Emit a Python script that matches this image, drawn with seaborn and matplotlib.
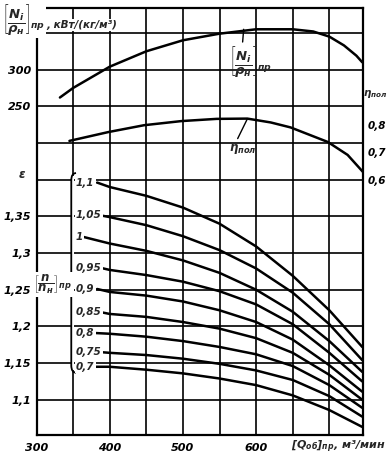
import numpy as np
import pandas as pd
import matplotlib.pyplot as plt
import seaborn as sns
from matplotlib.path import Path
from matplotlib.patches import PathPatch, Rectangle

# --- data ---
# reduced power [N_i/rho_n]_pr, kW/(kg/m3)
q_power = [332, 350, 400, 450, 500, 550, 600, 650, 678, 700, 720, 737, 745]
n_power = [262, 275, 304, 325, 340, 349, 355, 355, 352, 345, 333, 319, 310]

# polytropic efficiency
q_eff = [345, 398, 447, 498, 546, 588, 620, 647, 698, 725, 746]
eff = [0.741, 0.773, 0.798, 0.813, 0.821, 0.822, 0.808, 0.790, 0.737, 0.690, 0.628]

# pressure ratio curves for relative speed [n/n_n]_pr
speed_labels = ['1,1', '1,05', '1', '0,95', '0,9', '0,85', '0,8', '0,75', '0,7']
q_start = [383, 384, 364, 387, 383, 390, 380, 387, 380]
eps_start = [1.396, 1.352, 1.322, 1.280, 1.251, 1.219, 1.191, 1.165, 1.145]
q_grid = [400, 450, 500, 550, 600, 650, 700, 745]
eps_110 = [1.390, 1.378, 1.362, 1.340, 1.309, 1.269, 1.222, 1.172]
eps_105 = [1.349, 1.338, 1.323, 1.304, 1.279, 1.246, 1.203, 1.154]
eps_100 = [1.313, 1.303, 1.290, 1.273, 1.250, 1.220, 1.180, 1.138]
eps_095 = [1.277, 1.270, 1.261, 1.248, 1.230, 1.203, 1.164, 1.125]
eps_090 = [1.247, 1.242, 1.234, 1.222, 1.206, 1.182, 1.147, 1.111]
eps_085 = [1.217, 1.213, 1.206, 1.197, 1.184, 1.164, 1.134, 1.100]
eps_080 = [1.190, 1.186, 1.180, 1.172, 1.162, 1.146, 1.120, 1.089]
eps_075 = [1.164, 1.161, 1.156, 1.149, 1.140, 1.127, 1.105, 1.077]
eps_070 = [1.145, 1.141, 1.136, 1.129, 1.120, 1.106, 1.086, 1.063]
eps_curves = [eps_110, eps_105, eps_100, eps_095, eps_090, eps_085, eps_080, eps_075, eps_070]

x_ticks = [300, 350, 400, 450, 500, 550, 600, 650, 700]
x_ticklabels = ['300', '', '400', '', '500', '', '600', '', '']
eps_ticks = [1.1, 1.15, 1.2, 1.25, 1.3, 1.35, 1.4, 1.45, 1.5, 1.55, 1.6]
eps_ticklabels = ['1,1', '1,15', '1,2', '1,25', '1,3', '1,35', '', '', '', '', '']
n_ticks = [250, 300]
eff_ticks = [0.6, 0.7, 0.8]

# long-form table for seaborn
rows = []
for lab, q0, e0, eps in zip(speed_labels, q_start, eps_start, eps_curves):
    for q, e in zip([q0] + q_grid, [e0] + eps):
        rows.append({'Q': q, 'eps': e, 'n': lab})
df = pd.DataFrame(rows)

sns.set_theme(style='white')
plt.rcParams['font.family'] = ['DejaVu Sans']
plt.rcParams['font.style'] = 'italic'
plt.rcParams['font.weight'] = 'bold'
plt.rcParams['mathtext.fontset'] = 'custom'
plt.rcParams['mathtext.rm'] = 'DejaVu Sans:italic:bold'
plt.rcParams['mathtext.it'] = 'DejaVu Sans:italic:bold'
plt.rcParams['mathtext.bf'] = 'DejaVu Sans:italic:bold'
plt.rcParams['lines.solid_joinstyle'] = 'round'
plt.rcParams['lines.solid_capstyle'] = 'round'

fig = plt.figure(figsize=(3.88, 4.59), dpi=100)
ax = fig.add_axes([36.5 / 388, 24 / 459, 326.5 / 388, 427 / 459])

# the three scales share one frame
eps_lim = (1.052, 1.634)
n_lim = tuple(250 + (e - 1.5) * 1000 for e in eps_lim)
eff_lim = tuple(0.6 + (e - 1.4) * 0.2 / 0.075 for e in eps_lim)

sns.lineplot(data=df, x='Q', y='eps', hue='n', hue_order=speed_labels,
             palette=['black'] * len(speed_labels), estimator=None, legend=False,
             lw=1.8, ax=ax, zorder=3)
ax.set_xlim(300, 746)
ax.set_ylim(*eps_lim)
ax.set_xticks(x_ticks)
ax.set_xticklabels(x_ticklabels)
ax.set_yticks(eps_ticks)
ax.set_yticklabels(eps_ticklabels)
ax.tick_params(length=0, labelsize=8, colors='black', pad=4)
ax.tick_params(axis='x', pad=6)
ax.grid(True, color='black', lw=1.2)
ax.set_xlabel('')
ax.set_ylabel('')
for s in ax.spines.values():
    s.set_color('black')
    s.set_linewidth(1.6)

axN = ax.twinx()
sns.lineplot(x=q_power, y=n_power, color='black', lw=1.8, ax=axN)
axN.set_ylim(*n_lim)
axN.yaxis.tick_left()
axN.set_yticks(n_ticks)
axN.set_yticklabels([str(v) for v in n_ticks])
axN.tick_params(length=0, labelsize=8, colors='black', pad=4)

axE = ax.twinx()
sns.lineplot(x=q_eff, y=eff, color='black', lw=1.8, ax=axE)
axE.set_ylim(*eff_lim)
axE.set_yticks(eff_ticks)
axE.set_yticklabels([f'{v:.1f}'.replace('.', ',') for v in eff_ticks])
axE.tick_params(length=0, labelsize=7.5, colors='black', pad=3)
for a in (axN, axE):
    a.set_xlim(300, 746)
    a.set_ylabel('')
    for s in a.spines.values():
        s.set_visible(False)

# curve labels with short leaders
for lab, q0, e0 in zip(speed_labels, q_start, eps_start):
    ax.annotate(lab, xy=(q0, e0), xytext=(354, e0), ha='left', va='center',
                fontsize=7.5, zorder=5,
                bbox=dict(boxstyle='square,pad=0.1', fc='white', ec='none'),
                arrowprops=dict(arrowstyle='-', lw=1.0, color='black',
                                relpos=(1.0, 0.5), shrinkA=0, shrinkB=0))

# brace grouping the speed curves
ax.add_patch(Rectangle((348.3, 1.14), 3.4, 0.265, fc='white', ec='none', zorder=2))
xs, xr, xt = 347.5, 354.0, 340.5
top, tip, bot, dy = 1.409, 1.263, 1.137, 0.010
verts = [(xr, top), (xs, top), (xs, top - dy), (xs, tip + dy), (xs, tip), (xt, tip),
         (xs, tip), (xs, tip - dy), (xs, bot + dy), (xs, bot), (xr, bot)]
codes = [Path.MOVETO, Path.CURVE3, Path.CURVE3, Path.LINETO, Path.CURVE3, Path.CURVE3,
         Path.CURVE3, Path.CURVE3, Path.LINETO, Path.CURVE3, Path.CURVE3]
ax.add_patch(PathPatch(Path(verts, codes), fc='none', ec='black', lw=1.3, zorder=4))
ax.text(322, 1.257, r'$\left[\dfrac{n}{n_н}\right]_{пр}$', ha='center', va='center',
        fontsize=8.5, zorder=5, bbox=dict(boxstyle='square,pad=0.05', fc='white', ec='none'))

# labels on the upper curves
axN.annotate(r'$\left[\dfrac{N_i}{\rho_н}\right]_{пр}$', xy=(583, 355), xytext=(593, 310),
             ha='center', va='center', fontsize=9.5,
             arrowprops=dict(arrowstyle='-', lw=1.0, color='black',
                             relpos=(0.3, 1.0), shrinkA=0, shrinkB=0))
axE.annotate(r'$\eta_{пол}$', xy=(588, 0.821), xytext=(582, 0.712),
             ha='center', va='center', fontsize=8.5,
             arrowprops=dict(arrowstyle='-', lw=1.0, color='black',
                             relpos=(0.25, 1.0), shrinkA=0, shrinkB=0))

# axis titles
fig.text(2 / 388, 1 - 3 / 459, r'$\left[\dfrac{N_i}{\rho_н}\right]_{пр}$',
         ha='left', va='top', fontsize=9.5, zorder=5,
         bbox=dict(boxstyle='square,pad=0.1', fc='white', ec='none'))
fig.text(46 / 388, 1 - 25 / 459, ', кВт/(кг/м³)', ha='left', va='center', fontsize=7.5,
         zorder=5, bbox=dict(boxstyle='square,pad=0.1', fc='white', ec='none'))
fig.text(22 / 388, 1 - 174 / 459, 'ε', ha='center', va='center', fontsize=8.5)
fig.text(375 / 388, 1 - 94 / 459, r'$\eta_{пол}$', ha='center', va='center', fontsize=7.5)
fig.text(386 / 388, 1 - 447 / 459, r'$[Q_{об}]_{пр}$, м³/мин', ha='right', va='center',
         fontsize=8)

fig.savefig('out.png', dpi=100, facecolor='white')
